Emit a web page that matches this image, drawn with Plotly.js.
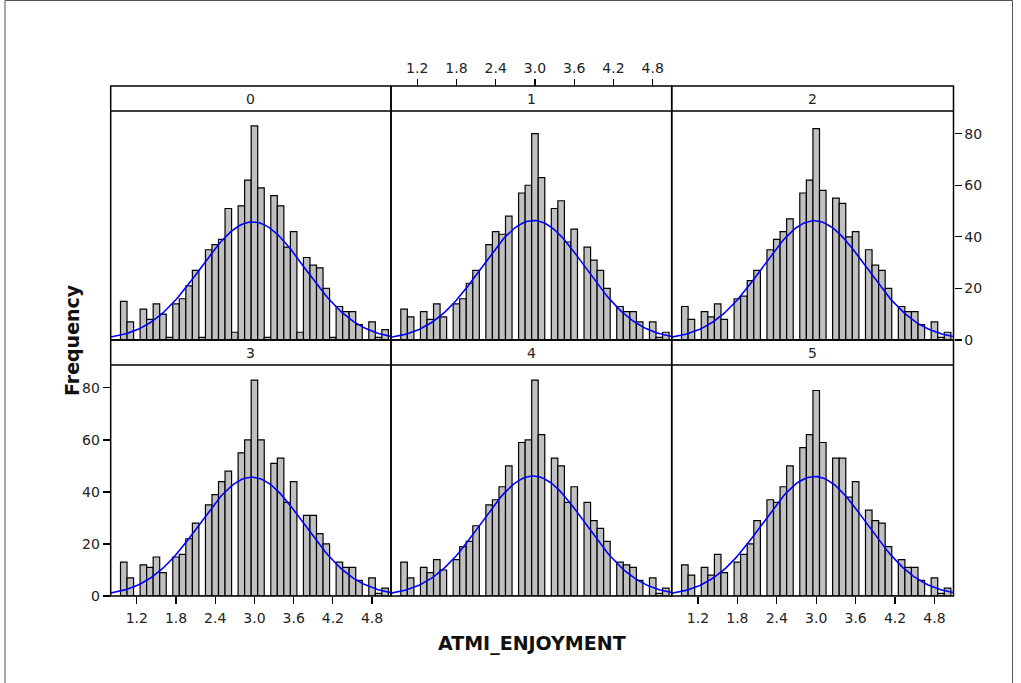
<!DOCTYPE html>
<html>
<head>
<meta charset="utf-8">
<script src="https://cdn.plot.ly/plotly-3.0.1.min.js"></script>
<style>
  html, body { margin: 0; padding: 0; background: #fff; }
  #chart { width: 1021px; height: 683px; }
</style>
</head>
<body>
<div id="chart"></div>
<script>
// ---- data ----
const panelLabels = ["0", "1", "2", "3", "4", "5"];
const binCenters = [1.0, 1.1, 1.2, 1.3, 1.4, 1.5, 1.6, 1.7, 1.8, 1.9,
                    2.0, 2.1, 2.2, 2.3, 2.4, 2.5, 2.6, 2.7, 2.8, 2.9,
                    3.0, 3.1, 3.2, 3.3, 3.4, 3.5, 3.6, 3.7, 3.8, 3.9,
                    4.0, 4.1, 4.2, 4.3, 4.4, 4.5, 4.6, 4.7, 4.8, 4.9, 5.0];
const freq0 = [15, 7, 0, 12, 8, 14, 10, 1, 14, 16, 21, 27, 1, 35, 37, 39, 51, 3, 52, 62, 83, 59, 1, 56, 52, 36, 42, 3, 32, 29, 28, 20, 1, 13, 11, 11, 6, 0, 7, 1, 4];
const freq1 = [12, 9, 0, 11, 8, 14, 9, 0, 14, 16, 22, 27, 0, 37, 42, 41, 48, 0, 57, 60, 80, 63, 0, 51, 54, 38, 43, 0, 36, 31, 27, 20, 0, 13, 11, 11, 7, 0, 7, 1, 3];
const freq2 = [13, 8, 0, 11, 9, 14, 8, 0, 16, 17, 23, 27, 0, 35, 39, 42, 47, 0, 57, 62, 82, 58, 0, 55, 53, 40, 42, 0, 35, 29, 27, 20, 0, 13, 11, 11, 6, 0, 7, 1, 3];
const freq3 = [13, 7, 0, 12, 11, 15, 9, 0, 15, 16, 22, 28, 0, 35, 39, 44, 48, 0, 55, 60, 83, 60, 0, 51, 53, 36, 44, 0, 31, 31, 24, 20, 0, 13, 11, 11, 6, 0, 7, 1, 3];
const freq4 = [13, 7, 0, 11, 9, 14, 10, 0, 14, 19, 21, 27, 0, 35, 37, 42, 50, 0, 59, 60, 83, 62, 0, 53, 50, 36, 42, 0, 36, 29, 26, 21, 0, 13, 12, 11, 6, 0, 7, 1, 3];
const freq5 = [12, 8, 0, 11, 8, 16, 9, 0, 13, 16, 20, 29, 0, 37, 36, 42, 50, 0, 57, 62, 79, 59, 0, 53, 53, 38, 44, 0, 33, 29, 28, 19, 0, 14, 11, 11, 6, 0, 7, 1, 3];
const xTickVals = [1.2, 1.8, 2.4, 3.0, 3.6, 4.2, 4.8];
const xTickLabels = ["1.2", "1.8", "2.4", "3.0", "3.6", "4.2", "4.8"];
const yTickVals = [0, 20, 40, 60, 80];
const yTickLabels = ["0", "20", "40", "60", "80"];
const xTitle = "ATMI_ENJOYMENT";
const yTitle = "Frequency";

// ---- layout geometry ----
const W = 1021, H = 683;
const px = v => v / W;
const py = v => 1 - v / H;
const cols = [[110.7, 391], [391, 671.7], [671.7, 953.5]];
const plotRows = [[111, 340], [365, 596]];
const stripRows = [[86, 111], [340, 365]];
const xRange = [0.8, 5.09];
const yRange = [0, 88.8];
const FONT = "DejaVu Sans, Verdana, sans-serif";
const TICKFONT = {family: FONT, size: 14, color: "#222"};

const freqs = [freq0, freq1, freq2, freq3, freq4, freq5];
const binWidth = binCenters[1] - binCenters[0];

const traces = [];
const layout = {
  width: W, height: H,
  margin: {l: 0, r: 0, t: 0, b: 0},
  paper_bgcolor: "#fff", plot_bgcolor: "#fff",
  showlegend: false,
  bargap: 0,
  font: {family: FONT, size: 14, color: "#222"},
  shapes: [], annotations: []
};

for (let i = 0; i < 6; i++) {
  const r = Math.floor(i / 3), c = i % 3;
  const n = i + 1;
  const xa = n === 1 ? "x" : "x" + n;
  const ya = n === 1 ? "y" : "y" + n;
  const f = freqs[i];

  traces.push({
    type: "bar", x: binCenters, y: f, width: binWidth,
    xaxis: xa, yaxis: ya,
    marker: {color: "#c0c0c0", line: {color: "#000", width: 1.2}},
    hoverinfo: "x+y"
  });

  // fitted normal curve computed from this panel's histogram
  let N = 0, s = 0;
  for (let k = 0; k < f.length; k++) { N += f[k]; s += f[k] * binCenters[k]; }
  const mean = s / N;
  let ss = 0;
  for (let k = 0; k < f.length; k++) ss += f[k] * (binCenters[k] - mean) ** 2;
  const sd = Math.sqrt(ss / (N - 1));
  const cx = [], cy = [];
  const steps = 120;
  for (let k = 0; k <= steps; k++) {
    const x = xRange[0] + (xRange[1] - xRange[0]) * k / steps;
    cx.push(x);
    cy.push(N * binWidth / (sd * Math.sqrt(2 * Math.PI)) * Math.exp(-0.5 * ((x - mean) / sd) ** 2));
  }
  traces.push({
    type: "scatter", mode: "lines", x: cx, y: cy,
    xaxis: xa, yaxis: ya,
    line: {color: "#0000ff", width: 1.6},
    hoverinfo: "skip"
  });

  const xKey = n === 1 ? "xaxis" : "xaxis" + n;
  const yKey = n === 1 ? "yaxis" : "yaxis" + n;
  const xAxis = {
    domain: [px(cols[c][0]), px(cols[c][1])],
    range: xRange, anchor: ya,
    showline: false, showgrid: false, zeroline: false,
    ticks: "", showticklabels: false, fixedrange: true
  };
  const yAxis = {
    domain: [py(plotRows[r][1]), py(plotRows[r][0])],
    range: yRange, anchor: xa,
    showline: false, showgrid: false, zeroline: false,
    ticks: "", showticklabels: false, fixedrange: true
  };
  const tickStyle = {
    ticks: "outside", ticklen: 7, tickwidth: 1.2, tickcolor: "#000",
    showticklabels: true, tickfont: TICKFONT
  };
  if (i === 3 || i === 5) {
    Object.assign(xAxis, tickStyle, {tickvals: xTickVals, ticktext: xTickLabels, side: "bottom", ticklabelstandoff: 2});
  }
  if (i === 1) {
    Object.assign(xAxis, tickStyle, {tickvals: xTickVals, ticktext: xTickLabels,
      side: "top", anchor: "free", position: py(stripRows[0][0])});
  }
  if (i === 2) {
    Object.assign(yAxis, tickStyle, {tickvals: yTickVals, ticktext: yTickLabels, side: "right"});
  }
  if (i === 3) {
    Object.assign(yAxis, tickStyle, {tickvals: yTickVals, ticktext: yTickLabels, side: "left"});
  }
  layout[xKey] = xAxis;
  layout[yKey] = yAxis;

  // panel frame and strip
  layout.shapes.push({
    type: "rect", xref: "paper", yref: "paper", layer: "above",
    x0: px(cols[c][0]), x1: px(cols[c][1]),
    y0: py(plotRows[r][1]), y1: py(stripRows[r][0]),
    line: {color: "#000", width: 1.5}, fillcolor: "rgba(0,0,0,0)"
  });
  layout.shapes.push({
    type: "line", xref: "paper", yref: "paper", layer: "above",
    x0: px(cols[c][0]), x1: px(cols[c][1]),
    y0: py(stripRows[r][1]), y1: py(stripRows[r][1]),
    line: {color: "#000", width: 1.5}
  });
  layout.annotations.push({
    xref: "paper", yref: "paper", showarrow: false,
    x: px((cols[c][0] + cols[c][1]) / 2), y: py((stripRows[r][0] + stripRows[r][1]) / 2),
    xanchor: "center", yanchor: "middle",
    text: panelLabels[i], font: TICKFONT
  });
}

// outer frame of the picture
layout.shapes.push({
  type: "rect", xref: "paper", yref: "paper", layer: "above",
  x0: px(5), x1: px(1012.5), y0: py(700), y1: py(0.5),
  line: {color: "#555", width: 1}, fillcolor: "rgba(0,0,0,0)"
});

// axis titles
layout.annotations.push({
  xref: "paper", yref: "paper", showarrow: false,
  x: px(532), y: py(643), xanchor: "center", yanchor: "middle",
  text: "<b>" + xTitle + "</b>", font: {family: FONT, size: 19, color: "#111"}
});
layout.annotations.push({
  xref: "paper", yref: "paper", showarrow: false,
  x: px(72), y: py(340), xanchor: "center", yanchor: "middle", textangle: -90,
  text: "<b>" + yTitle + "</b>", font: {family: FONT, size: 19, color: "#111"}
});

Plotly.newPlot("chart", traces, layout, {displayModeBar: false, staticPlot: true});
</script>
</body>
</html>
